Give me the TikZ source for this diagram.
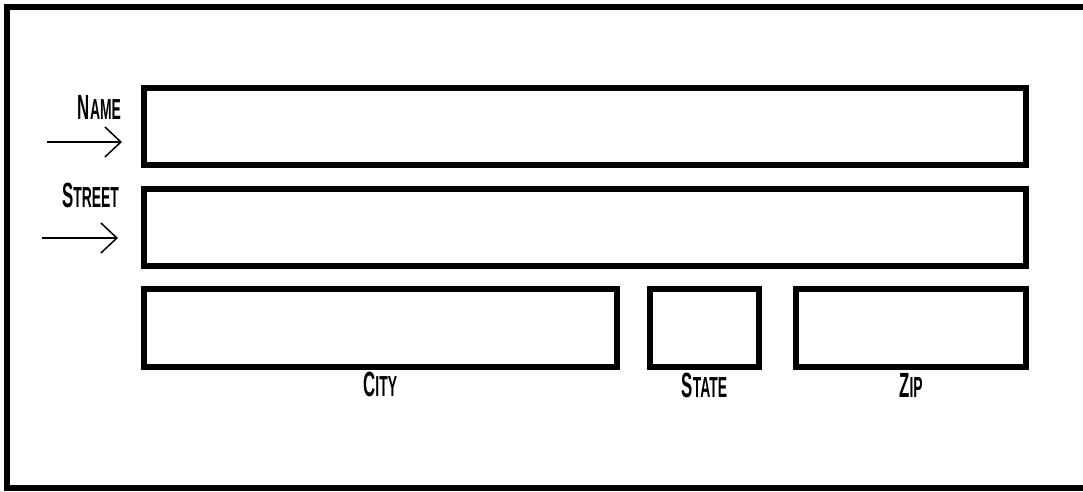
\documentclass[tikz,border=0pt]{standalone}
\usepackage{fontspec}
\newfontfamily\hand[FakeStretch=0.48]{Liberation Sans Bold}
\usetikzlibrary{arrows.meta}
\newcommand{\smcaps}[2]{{\hand\fontsize{35}{35}\selectfont #1}{\hand\fontsize{29}{29}\selectfont #2}}
\tikzset{
  field/.style={draw=black, line width=6pt, fill=white, rectangle, inner sep=0pt, outer sep=0pt},
  lbl/.style={inner sep=0pt, outer sep=0pt},
  pointer/.style={line width=1.5pt, -{Straight Barb[length=16pt,width=30pt,line width=1.5pt]}},
  frame/.style={line width=6pt, line join=miter}
}
\begin{document}
\begin{tikzpicture}[x=1pt,y=-1pt]
\useasboundingbox (0,0) rectangle (1083,491);
\fill[white] (0,0) rectangle (1083,491);
\draw[frame] (1100,7) -- (7,7) -- (7,488) -- (1100,488);
% fields
\node[field, minimum width=882pt, minimum height=77pt] (name) at (585,126) {};
\node[field, minimum width=882pt, minimum height=77pt] (street) at (585,227.5) {};
\node[field, minimum width=472.5pt, minimum height=78pt] (city) at (380.25,327.5) {};
\node[field, minimum width=109pt, minimum height=78pt] (state) at (704.5,327.5) {};
\node[field, minimum width=230pt, minimum height=78pt] (zip) at (911,327.5) {};
% labels
\node[lbl, anchor=base east] (namelbl) at (121,119) {\smcaps{N}{AME}};
\node[lbl, anchor=base east] (streetlbl) at (119,207) {\smcaps{S}{TREET}};
\node[lbl, anchor=base] (citylbl) at (city.south |- 0,396) {\smcaps{C}{ITY}};
\node[lbl, anchor=base] (statelbl) at (state.south |- 0,397) {\smcaps{S}{TATE}};
\node[lbl, anchor=base] (ziplbl) at (zip.south |- 0,397) {\smcaps{Z}{IP}};
% arrows
\coordinate (a1s) at (47,142);
\coordinate (a1e) at (122,142);
\coordinate (a2s) at (42,238);
\coordinate (a2e) at (118,238);
\draw[pointer] (a1s) -- (a1e);
\draw[pointer] (a2s) -- (a2e);
\end{tikzpicture}
\end{document}
